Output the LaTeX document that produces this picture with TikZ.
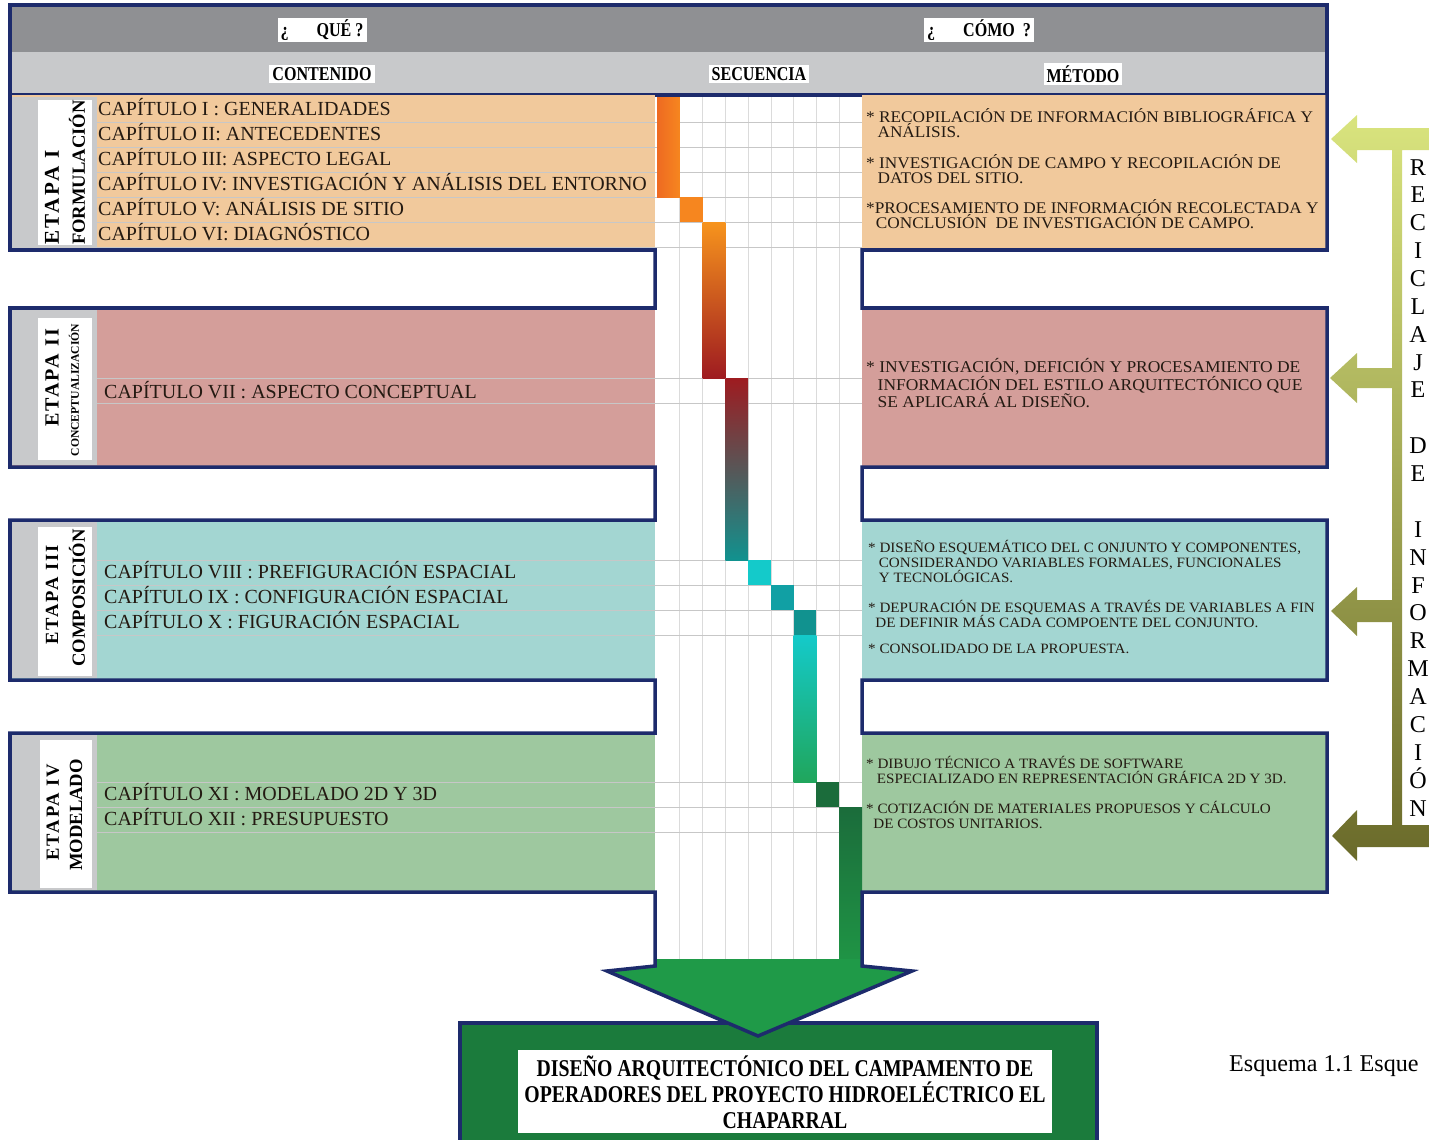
\documentclass[tikz,border=0pt]{standalone}
\usepackage{fontspec}
\setmainfont{Liberation Serif}
\newfontfamily\narrowserif[FakeStretch=0.82]{Liberation Serif}
\newfontfamily\wideserif[FakeStretch=1.06]{Liberation Serif}
\usetikzlibrary{calc}

\definecolor{navy}{HTML}{1D2B6C}
\definecolor{hdrdark}{HTML}{8F9093}
\definecolor{hdrlight}{HTML}{C8C9CB}
\definecolor{peach}{HTML}{F1C99C}
\definecolor{rose}{HTML}{D49E9A}
\definecolor{aqua}{HTML}{A3D6D2}
\definecolor{sage}{HTML}{9EC89F}
\definecolor{inkdark}{HTML}{241A12}
\definecolor{orA}{HTML}{EE6A22}
\definecolor{orB}{HTML}{F6861F}
\definecolor{orC}{HTML}{F7941D}
\definecolor{orD}{HTML}{E2561F}
\definecolor{wine}{HTML}{9E1B20}
\definecolor{slate}{HTML}{5E5252}
\definecolor{tealA}{HTML}{11928F}
\definecolor{cyanA}{HTML}{14CACA}
\definecolor{tealB}{HTML}{11A0A4}
\definecolor{greenA}{HTML}{20A65C}
\definecolor{greenB}{HTML}{1B6C3B}
\definecolor{greenC}{HTML}{1F9445}
\definecolor{arrowgreen}{HTML}{1F9A48}
\definecolor{boxgreen}{HTML}{1B7B3C}
\definecolor{recTop}{HTML}{D9E47E}
\definecolor{recBot}{HTML}{6A6A2A}

\begin{document}
\begin{tikzpicture}[x=0.035cm, y=-0.035cm,
    frame/.style={draw=navy, line width=3.5pt, line join=miter},
    tag/.style={fill=white, inner xsep=3pt, inner ysep=2pt,
                font=\narrowserif\bfseries\fontsize{19.5}{20}\selectfont},
    chap/.style={anchor=base west, inner sep=0pt, text=inkdark,
                 font=\fontsize{19.9}{20}\selectfont},
    metodo/.style={anchor=north west, align=left, inner sep=0pt, text=inkdark},
    etapa/.style={rotate=90, inner sep=0pt,
                  font=\bfseries\fontsize{21}{21}\selectfont\addfontfeature{LetterSpace=12}},
    etsub/.style={rotate=90, inner sep=0pt, font=\bfseries\fontsize{18.5}{19}\selectfont},
    rowline/.style={draw=black!22, line width=0.6pt},
    gridline/.style={draw=black!14, line width=0.6pt},
    letra/.style={anchor=base, inner sep=0pt, font=\fontsize{24}{24}\selectfont},
  ]
  \useasboundingbox (0,0) rectangle (1429,1139);

  % Header: QUE / COMO
  \fill[hdrdark] (10,5) rectangle (1327,52);
  \fill[hdrlight] (10,52) rectangle (1327,95);
  \draw[frame] (10,5) rectangle (1327,95);
  \node[tag] (que) at (322,30) {¿\hspace{28pt}QUÉ ?};
  \node[tag] (como) at (979,30) {¿\hspace{28pt}CÓMO\hspace{8pt}?};
  \node[tag] (contenido) at (322,74) {CONTENIDO};
  \node[tag] (secuencia) at (759,74) {SECUENCIA};
  \node[tag] (metodo) at (1083,74) {MÉTODO};

  % Stage fills, left and right
  \fill[peach] (10,95) rectangle (655,250);
  \fill[peach] (862,95) rectangle (1327,250);
  \fill[rose] (10,308) rectangle (655,467);
  \fill[rose] (862,308) rectangle (1327,467);
  \fill[aqua] (10,520) rectangle (655,680);
  \fill[aqua] (862,520) rectangle (1327,680);
  \fill[sage] (10,733) rectangle (655,892);
  \fill[sage] (862,733) rectangle (1327,892);

  % Label strips
  \fill[hdrlight] (12,97) rectangle (97,248);
  \fill[white] (38,100) rectangle (92,245);
  \fill[hdrlight] (12,310) rectangle (97,465);
  \fill[white] (38,318) rectangle (92,460);
  \fill[hdrlight] (12,522) rectangle (97,678);
  \fill[white] (38,527) rectangle (92,676);
  \fill[hdrlight] (12,735) rectangle (97,890);
  \fill[white] (40,740) rectangle (92,888);

  % Sequence column grid
  \fill[white] (657,97) rectangle (862,960);
  \foreach \k in {1,...,8}
    \draw[gridline] ({657+22.78*\k},97) -- ({657+22.78*\k},960);
  \foreach \r in {122,147,172,197,222,247,378,403,560,585,610,635,782,807,832}
    \draw[rowline] (97,\r) -- (862,\r);

  % Sequence bars
  \shade[left color=orA, right color=orB] (657,97) rectangle (679.8,197);
  \fill[orB] (679.8,197) rectangle (702.6,222);
  \shade[top color=orC, middle color=orD, bottom color=wine] (702.6,222) rectangle (725.3,378);
  \shade[top color=wine, middle color=slate, bottom color=tealA] (725.3,378) rectangle (748.1,560);
  \fill[cyanA] (748.1,560) rectangle (770.9,585);
  \fill[tealB] (770.9,585) rectangle (793.7,610);
  \fill[tealA] (793.7,610) rectangle (816.4,635);
  \shade[top color=cyanA, bottom color=greenA] (793.7,635) rectangle (816.4,782);
  \fill[greenB] (816.4,782) rectangle (839.2,807);
  \shade[top color=greenB, bottom color=greenC] (839.2,807) rectangle (862,960);

  % Result box
  \fill[boxgreen] (460,1023) rectangle (1097,1150);
  \draw[frame] (460,1023) rectangle (1097,1150);
  \fill[white] (518,1050) rectangle (1052,1133);
  \node[align=center, inner sep=0pt,
        font=\narrowserif\bfseries\fontsize{24}{26}\selectfont] (resultado) at (785,1092)
    {DISEÑO ARQUITECTÓNICO DEL CAMPAMENTO DE\\
     OPERADORES DEL PROYECTO HIDROELÉCTRICO EL\\
     CHAPARRAL};

  % Arrow head
  \fill[arrowgreen] (655,959) -- (655,966) -- (607,971) -- (758,1036)
    -- (912,971) -- (862,966) -- (862,959) -- cycle;

  % Outline of both columns and the arrow
  \draw[frame] (10,95) -- (10,250) -- (655,250) -- (655,308) -- (10,308)
    -- (10,467) -- (655,467) -- (655,520) -- (10,520) -- (10,680)
    -- (655,680) -- (655,733) -- (10,733) -- (10,892) -- (655,892)
    -- (655,966) -- (607,971) -- (758,1036) -- (912,971) -- (862,966)
    -- (862,892) -- (1327,892) -- (1327,733) -- (862,733) -- (862,680)
    -- (1327,680) -- (1327,520) -- (862,520) -- (862,467) -- (1327,467)
    -- (1327,308) -- (862,308) -- (862,250) -- (1327,250) -- (1327,95);

  % Stage labels
  \node[etapa, anchor=west] (et1) at (52,245) {ETAPA I};
  \node[etsub, anchor=west] (et1s) at (77,245) {FORMULACIÓN};
  \node[etapa, font=\bfseries\fontsize{20}{20}\selectfont\addfontfeature{LetterSpace=10}] (et2) at (52,378) {ETAPA II};
  \node[etsub, font=\bfseries\fontsize{11.6}{12}\selectfont] (et2s) at (74,390) {CONCEPTUALIZACIÓN};
  \node[etapa, font=\bfseries\fontsize{18.5}{19}\selectfont\addfontfeature{LetterSpace=10}] (et3) at (52,595) {ETAPA III};
  \node[etsub] (et3s) at (77,598) {COMPOSICIÓN};
  \node[etapa, font=\bfseries\fontsize{18.5}{19}\selectfont\addfontfeature{LetterSpace=10}] (et4) at (53,812) {ETAPA IV};
  \node[etsub] (et4s) at (76,815) {MODELADO};

  % Chapters
  \node[chap] (ch1) at (98,115.5) {CAPÍTULO I : GENERALIDADES};
  \node[chap] (ch2) at (98,140.5) {CAPÍTULO II: ANTECEDENTES};
  \node[chap] (ch3) at (98,165.5) {CAPÍTULO III: ASPECTO LEGAL};
  \node[chap] (ch4) at (98,190.5) {CAPÍTULO IV: INVESTIGACIÓN Y ANÁLISIS DEL ENTORNO};
  \node[chap] (ch5) at (98,215.5) {CAPÍTULO V: ANÁLISIS DE SITIO};
  \node[chap] (ch6) at (98,240.5) {CAPÍTULO VI: DIAGNÓSTICO};
  \node[chap] (ch7) at (104,398.5) {CAPÍTULO VII : ASPECTO CONCEPTUAL};
  \node[chap] (ch8) at (104,578.5) {CAPÍTULO VIII : PREFIGURACIÓN ESPACIAL};
  \node[chap] (ch9) at (104,603.5) {CAPÍTULO IX : CONFIGURACIÓN ESPACIAL};
  \node[chap] (ch10) at (104,628.5) {CAPÍTULO X : FIGURACIÓN ESPACIAL};
  \node[chap] (ch11) at (104,800.5) {CAPÍTULO XI : MODELADO 2D Y 3D};
  \node[chap] (ch12) at (104,825.5) {CAPÍTULO XII : PRESUPUESTO};

  % Methods
  \node[metodo, font=\wideserif\fontsize{16.2}{15}\selectfont] (met1) at (866,108)
    {* RECOPILACIÓN DE INFORMACIÓN BIBLIOGRÁFICA Y\\
     \hspace*{0.7em}ANÁLISIS.\\[16pt]
     * INVESTIGACIÓN DE CAMPO Y RECOPILACIÓN DE\\
     \hspace*{0.7em}DATOS DEL SITIO.\\[15pt]
     *PROCESAMIENTO DE INFORMACIÓN RECOLECTADA Y\\
     \hspace*{0.6em}CONCLUSIÓN \ DE INVESTIGACIÓN DE CAMPO.};
  \node[metodo, font=\wideserif\fontsize{16.4}{15}\selectfont] (met2) at (866,358)
    {* INVESTIGACIÓN, DEFICIÓN Y PROCESAMIENTO DE\\
     \hspace*{0.7em}INFORMACIÓN DEL ESTILO ARQUITECTÓNICO QUE\\
     \hspace*{0.7em}SE APLICARÁ AL DISEÑO.};
  \node[metodo, font=\wideserif\fontsize{14.2}{15}\selectfont] (met3) at (868,540)
    {* DISEÑO ESQUEMÁTICO DEL C ONJUNTO Y COMPONENTES,\\
     \hspace*{0.75em}CONSIDERANDO VARIABLES FORMALES, FUNCIONALES\\
     \hspace*{0.75em}Y TECNOLÓGICAS.\\[15pt]
     * DEPURACIÓN DE ESQUEMAS A TRAVÉS DE VARIABLES A FIN\\
     \hspace*{0.5em}DE DEFINIR MÁS CADA COMPOENTE DEL CONJUNTO.\\[11pt]
     * CONSOLIDADO DE LA PROPUESTA.};
  \node[metodo, font=\wideserif\fontsize{14.2}{15}\selectfont] (met4) at (866,756)
    {* DIBUJO TÉCNICO A TRAVÉS DE SOFTWARE\\
     \hspace*{0.75em}ESPECIALIZADO EN REPRESENTACIÓN GRÁFICA 2D Y 3D.\\[15pt]
     * COTIZACIÓN DE MATERIALES PROPUESOS Y CÁLCULO\\
     \hspace*{0.5em}DE COSTOS UNITARIOS.};

  % Feedback bracket with arrows back to the method boxes
  \shade[top color=recTop, bottom color=recBot]
    (1429,128) -- (1357,128) -- (1357,115) -- (1331,139) -- (1357,163)
    -- (1357,150) -- (1392,150) -- (1392,368) -- (1357,368) -- (1357,353)
    -- (1330,378) -- (1357,403) -- (1357,388) -- (1392,388) -- (1392,600)
    -- (1357,600) -- (1357,587) -- (1331,611) -- (1357,636) -- (1357,622)
    -- (1392,622) -- (1392,825) -- (1357,825) -- (1357,810) -- (1332,836)
    -- (1357,861) -- (1357,847) -- (1429,847) -- (1429,825) -- (1402,825)
    -- (1402,150) -- (1429,150) -- cycle;
  \foreach \ch [count=\i] in {R,E,C,I,C,L,A,J,E,{},D,E,{},I,N,F,O,R,M,A,C,I,Ó,N}
    \node[letra] (rec\i) at (1418,{175+27.87*(\i-1)}) {\ch};

  % Caption
  \node[anchor=base west, inner sep=0pt, font=\fontsize{24}{24}\selectfont] (esquema)
    at (1229,1071) {Esquema 1.1 Esque};
\end{tikzpicture}
\end{document}
